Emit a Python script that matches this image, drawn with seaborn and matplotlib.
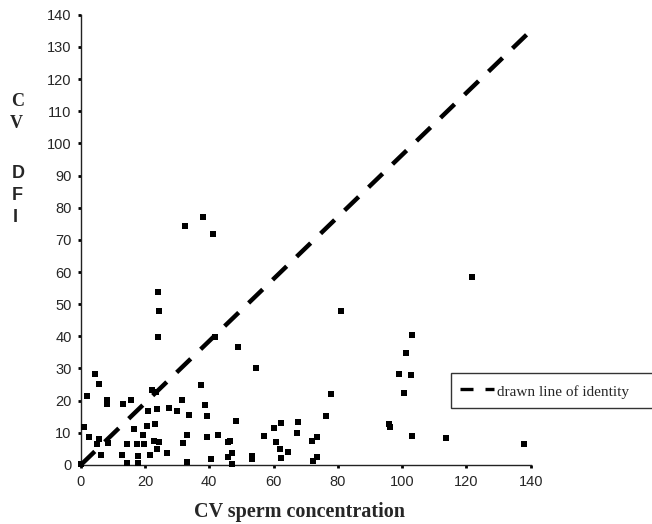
import numpy as np
import pandas as pd
import matplotlib
matplotlib.use('Agg')
import matplotlib.pyplot as plt
from matplotlib.lines import Line2D
import seaborn as sns

# CV of sperm concentration vs CV of DFI
cv_conc = [0.0, 1.0, 1.9, 2.7, 4.5, 5.8, 5.7, 5.2, 8.6, 8.1, 8.1, 6.2, 12.8, 13.1, 15.6,
           14.3, 14.3, 16.6, 17.4, 17.9, 17.9, 19.5, 19.7, 20.5, 21.0, 21.6, 22.3, 23.5,
           23.1, 22.9, 24.5, 23.6, 23.6, 24.0, 24.5, 24.0, 26.8, 27.5, 30.1, 31.4, 31.9,
           32.4, 33.2, 33.2, 33.7, 37.5, 38.0, 38.7, 39.2, 39.2, 40.4, 41.1, 41.8, 42.6,
           45.9, 46.5, 45.9, 47.0, 47.2, 48.3, 48.8, 53.2, 53.2, 54.4, 57.1, 60.1, 60.8,
           62.0, 62.2, 62.2, 64.6, 67.2, 67.5, 71.9, 73.4, 72.4, 73.4, 76.2, 78.0, 81.0,
           95.8, 96.3, 99.1, 100.5, 101.1, 102.8, 103.2, 103.2, 113.7, 121.8, 138.0]
cv_dfi = [0.3, 11.7, 21.5, 8.8, 28.2, 25.2, 8.0, 6.5, 6.9, 20.2, 18.9, 3.0, 3.1, 19.0, 20.2,
          6.4, 0.7, 11.1, 6.4, 2.8, 0.7, 9.3, 6.4, 12.2, 16.9, 3.1, 23.3, 22.8,
          12.6, 7.5, 7.2, 4.9, 17.3, 53.7, 47.8, 39.8, 3.6, 17.7, 16.9, 20.2, 6.9,
          74.2, 9.4, 1.0, 15.6, 24.8, 77.1, 18.5, 15.2, 8.6, 1.8, 71.7, 39.8, 9.4,
          7.2, 7.6, 2.4, 3.6, 0.3, 13.8, 36.6, 2.8, 1.8, 30.3, 9.0, 11.5, 7.2,
          5.1, 2.3, 13.1, 3.9, 9.8, 13.4, 7.5, 8.6, 1.3, 2.6, 15.2, 22.0, 47.8,
          12.6, 11.9, 28.3, 22.5, 34.9, 27.9, 40.3, 9.0, 8.5, 58.4, 6.4]

# hand drawn "line of identity" end points
line_x = [0, 140]
line_y = [0, 135]

x_ticks = list(range(0, 141, 20))
y_ticks = list(range(0, 141, 10))

df = pd.DataFrame({'conc': cv_conc, 'dfi': cv_dfi})
line_df = pd.DataFrame({'x': line_x, 'y': line_y})

sns.set_style('ticks')
plt.rcParams['font.family'] = ['Liberation Sans', 'DejaVu Sans']

fig = plt.figure(figsize=(6.52, 5.24), dpi=100)
ax = fig.add_axes([0.1238, 0.1126, 0.6902, 0.8594])

sns.lineplot(data=line_df, x='x', y='y', ax=ax, color='black', lw=3.2,
             linestyle=(0, (4.4, 3.1)), dash_capstyle='butt', zorder=2)
sns.scatterplot(data=df, x='conc', y='dfi', ax=ax, marker='s', s=19, color='black',
                linewidth=0, clip_on=False, zorder=3)

ax.set_xlim(0, 140)
ax.set_ylim(0, 140)
ax.set_xticks(x_ticks)
ax.set_yticks(y_ticks)
ax.set_xlabel('')
ax.set_ylabel('')
sns.despine(ax=ax)
for sp in ['left', 'bottom']:
    ax.spines[sp].set_linewidth(1.0)
    ax.spines[sp].set_color('#222222')
ax.tick_params(axis='y', length=2.5, width=2, pad=4, labelsize=10.5, color='black')
ax.tick_params(axis='x', length=2.5, width=2, pad=5, labelsize=10.5, color='black')

# axis titles
fig.text(299 / 652, 1 - 512 / 524, 'CV sperm concentration', ha='center', va='center',
         fontfamily='Liberation Serif', fontweight='bold', fontsize=14.5)
ylab = [('C', 17.3, 101, 'Liberation Serif'), ('V', 16.7, 123.3, 'Liberation Serif'),
        ('D', 18.3, 173.3, 'Liberation Sans'), ('F', 17.3, 195, 'Liberation Sans'),
        ('I', 15.5, 218, 'Liberation Sans')]
for ch, px, py, fam in ylab:
    fig.text(px / 652, 1 - py / 524, ch, ha='center', va='center', fontfamily=fam,
             fontweight='bold', fontsize=13)

# legend
handle = Line2D([0], [0], color='black', lw=2.4, linestyle=(0, (3.9, 3.6)),
                dash_capstyle='butt')
leg = ax.legend([handle], ['drawn line of identity'], loc='upper left', mode='expand',
                bbox_to_anchor=(451 / 652, 1 - 373.3 / 524, 215 / 652, 0),
                bbox_transform=fig.transFigure, borderaxespad=0, borderpad=0.6,
                handlelength=2.2, handleheight=1.3, handletextpad=0.2, fancybox=False,
                framealpha=1, prop={'family': 'Liberation Serif', 'size': 11})
leg.get_frame().set_edgecolor('#333333')
leg.get_frame().set_linewidth(1.0)

plt.savefig('out.png', dpi=100)
